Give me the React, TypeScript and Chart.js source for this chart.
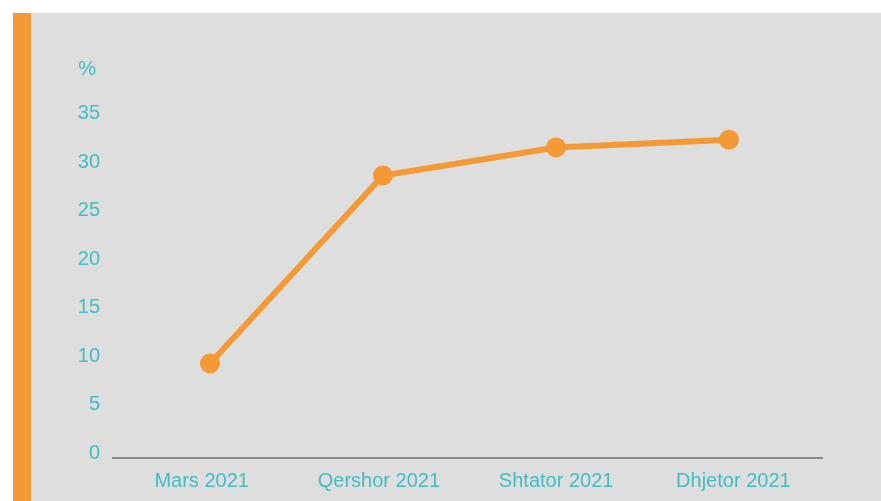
import React, { useEffect, useRef } from "react";
import { Chart, registerables } from "chart.js";

Chart.register(...registerables);

const categories = ["Mars 2021", "Qershor 2021", "Shtator 2021", "Dhjetor 2021"];
const values = [9.7, 29.1, 32.0, 32.8];
const yMin = 0;
const yMax = 40;
const yStep = 5;
const yTopLabel = "%\u2009";

const TEAL = "#42BDC5";
const ORANGE = "#F39A37";
const PANEL = "#DEDEDE";
const AXIS = "#8A8A8A";
const FONT = "'Liberation Sans', Arial, Helvetica, sans-serif";

export default function App() {
  const ref = useRef<HTMLCanvasElement | null>(null);

  useEffect(() => {
    if (!ref.current) return;
    const points = values.map((v, i) => ({ x: i, y: v }));
    const chart = new Chart(ref.current, {
      type: "line",
      data: {
        labels: categories,
        datasets: [
          {
            data: points,
            xAxisID: "xd",
            borderColor: ORANGE,
            backgroundColor: ORANGE,
            borderWidth: 6,
            pointRadius: 10,
            pointHoverRadius: 10,
            pointBackgroundColor: ORANGE,
            pointBorderWidth: 0,
            tension: 0,
          },
        ],
      },
      options: {
        animation: false,
        responsive: false,
        maintainAspectRatio: false,
        layout: { padding: { left: 0, right: 59, top: 69.9, bottom: 0 } },
        plugins: {
          legend: { display: false },
          tooltip: { enabled: false },
        },
        scales: {
          x: {
            type: "category",
            offset: true,
            grid: { display: false, drawTicks: false },
            border: { display: true, color: AXIS, width: 2 },
            ticks: {
              color: TEAL,
              font: { family: FONT, size: 20 },
              padding: 11.5,
              maxRotation: 0,
            },
            afterFit: (scale: any) => {
              scale.height = 43.5;
            },
          },
          xd: {
            type: "linear",
            display: false,
            min: -0.5607,
            max: 3.538,
          },
          y: {
            min: yMin,
            max: yMax,
            grid: { display: false, drawTicks: false },
            border: { display: false },
            ticks: {
              stepSize: yStep,
              color: TEAL,
              font: { family: FONT, size: 20, lineHeight: "9px" },
              padding: 13,
              callback: (v: any) => (Number(v) === yMax ? yTopLabel : [String(v), ""]),
            },
            afterFit: (scale: any) => {
              scale.width = 113;
            },
          },
        },
      },
    });
    return () => chart.destroy();
  }, []);

  return (
    <div style={{ position: "absolute", left: 0, top: 0, width: 881, height: 501, background: "#FFFFFF", overflow: "hidden" }}>
      <div style={{ position: "absolute", left: 13, top: 13, width: 18, height: 488, background: ORANGE }} />
      <div style={{ position: "absolute", left: 31, top: 13, width: 850, height: 488, background: PANEL }} />
      <canvas ref={ref} width={881} height={501} style={{ position: "absolute", left: 0, top: 0, width: 881, height: 501 }} />
    </div>
  );
}
